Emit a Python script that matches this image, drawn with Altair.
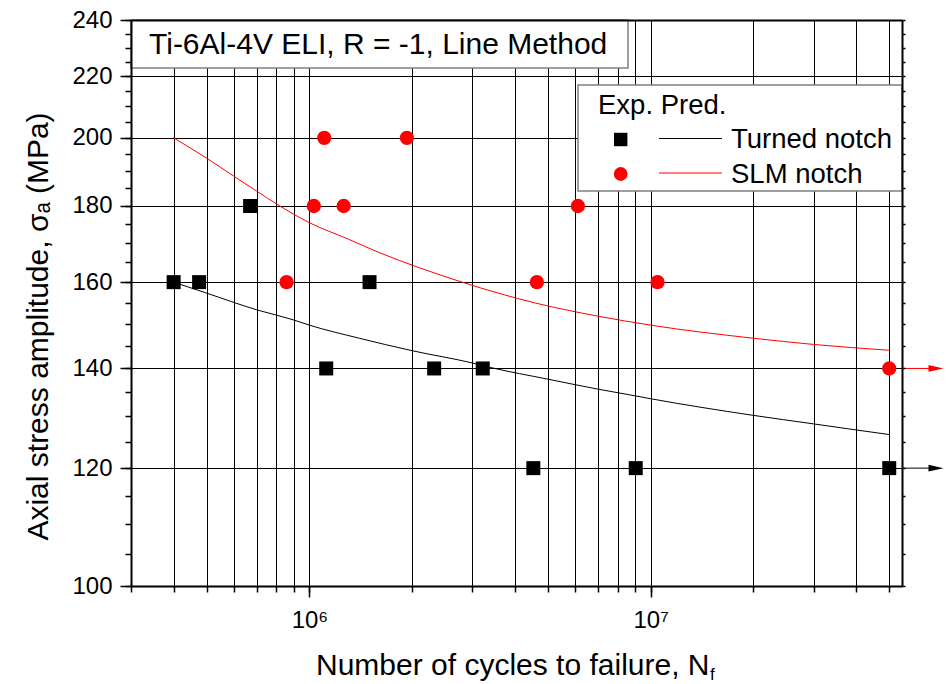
import altair as alt
import pandas as pd

# ---------------- data ----------------
turned_cycles = [4.0e5, 4.75e5, 6.7e5, 1.12e6, 1.5e6, 2.32e6, 3.22e6, 4.53e6, 9.04e6, 5.0e7]
turned_stress = [160, 160, 180, 140, 160, 140, 140, 120, 120, 120]

slm_cycles = [8.57e5, 1.03e6, 1.105e6, 1.26e6, 1.93e6, 4.64e6, 6.12e6, 1.047e7, 5.0e7]
slm_stress = [160, 180, 200, 180, 200, 160, 180, 160, 140]

turned_pred_cycles = [4e5, 5e5, 7e5, 9e5, 1e6, 1.4e6, 2e6, 3e6, 3.4e6, 5e6, 7e6, 9e6, 1e7, 2e7, 3e7, 4e7, 5e7]
turned_pred_stress = [160.0, 157.3, 153.3, 150.9, 149.7, 146.7, 143.9, 141.2, 140.2, 137.7, 135.6, 134.2,
                      133.6, 130.2, 128.5, 127.3, 126.4]

slm_pred_cycles = [4e5, 5e5, 6e5, 7e5, 8e5, 1e6, 1.3e6, 1.6e6, 2.1e6, 2.8e6, 4.6e6, 7e6, 1e7, 2e7, 3e7, 5e7]
slm_pred_stress = [200.0, 193.8, 188.5, 184.2, 180.6, 175.4, 171.0, 167.5, 163.6, 160.0, 154.9, 151.8,
                   149.7, 146.7, 145.3, 144.0]

runout_stress = [120, 140]
runout_series = ["Turned notch", "SLM notch"]

series_names = ["Turned notch", "SLM notch"]
series_colors = ["#000000", "#ff0000"]

x_domain = [3.0e5, 5.45e7]
y_domain = [100, 240]
x_grid_values = [3e5, 4e5, 5e5, 6e5, 7e5, 8e5, 9e5,
                 1e6, 2e6, 3e6, 4e6, 5e6, 6e6, 7e6, 8e6, 9e6,
                 1e7, 2e7, 3e7, 4e7, 5e7]
x_major_values = [1e6, 1e7]
x_major_labels = ["10\u2076", "10\u2077"]
y_major_values = [100, 120, 140, 160, 180, 200, 220, 240]
y_minor_values = list(range(100, 241, 5))

panel_title = "Ti-6Al-4V ELI, R = -1, Line Method"
legend_header = "Exp. Pred."
x_title = "Number of cycles to failure, N"
x_title_sub = "f"
y_title = "Axial stress amplitude, \u03c3\u2090 (MPa)"

# ---------------- layout ----------------
FONT = "Liberation Sans"
W, H = 771, 566

xs = alt.Scale(type="log", domain=x_domain, nice=False)
ys = alt.Scale(type="log", domain=y_domain, nice=False)
cs = alt.Scale(domain=series_names, range=series_colors)

turned_df = pd.DataFrame({"cycles": turned_cycles, "stress": turned_stress})
slm_df = pd.DataFrame({"cycles": slm_cycles, "stress": slm_stress})
pred_df = pd.concat([
    pd.DataFrame({"cycles": turned_pred_cycles, "stress": turned_pred_stress, "series": series_names[0]}),
    pd.DataFrame({"cycles": slm_pred_cycles, "stress": slm_pred_stress, "series": series_names[1]}),
])
runout_df = pd.DataFrame({"stress": runout_stress, "series": runout_series})
one = pd.DataFrame({"t": [panel_title]})

label_expr = "''"
for v, lab in reversed(list(zip(x_major_values, x_major_labels))):
    label_expr = f"abs(datum.value - {v}) < {v * 1e-3} ? '{lab}' : ({label_expr})"


def axis_layer(xaxis, yaxis):
    return alt.Chart(turned_df).mark_point(opacity=0).encode(
        x=alt.X("cycles:Q", scale=xs, axis=xaxis),
        y=alt.Y("stress:Q", scale=ys, axis=yaxis),
    )


grid_layer = axis_layer(
    alt.Axis(orient="bottom", values=x_grid_values, grid=True, gridColor="#000000", gridWidth=1,
             ticks=False, labels=False, domain=False, title=None, zindex=0),
    alt.Axis(orient="left", values=y_major_values, grid=True, gridColor="#000000", gridWidth=1,
             ticks=False, labels=False, domain=False, title=None, zindex=0),
)

minor_layer = axis_layer(
    alt.Axis(orient="bottom", values=x_grid_values, grid=False, ticks=True, tickSize=6, tickWidth=1.5,
             tickColor="#000000", labels=False, domain=True, domainWidth=2, domainColor="#000000",
             title=None, zindex=1),
    alt.Axis(orient="left", values=y_minor_values, grid=False, ticks=True, tickSize=6, tickWidth=1.5,
             tickColor="#000000", labels=False, domain=True, domainWidth=2, domainColor="#000000",
             title=None, zindex=1),
)

major_layer = axis_layer(
    alt.Axis(orient="bottom", values=x_major_values, grid=False, ticks=True, tickSize=11, tickWidth=1.5,
             tickColor="#000000", labelExpr=label_expr, labelFont=FONT, labelFontSize=24,
             labelColor="#000000", labelPadding=11, labelFlush=False, labelOverlap=False,
             domain=False, title=x_title, titleFont=FONT, titleFontSize=30, titleFontWeight="normal",
             titleColor="#000000", titleAlign="right", titleX=578, titleY=88,
             titleBaseline="alphabetic", zindex=1),
    alt.Axis(orient="left", values=y_major_values, grid=False, ticks=True, tickSize=11, tickWidth=1.5,
             tickColor="#000000", labelFont=FONT, labelFontSize=24, labelColor="#000000",
             labelPadding=8, labelFlush=False, labelOverlap=False, domain=False,
             title=y_title, titleFont=FONT, titleFontSize=30, titleFontWeight="normal",
             titleColor="#000000", titleAngle=270, titleAlign="center", titleX=-84, titleY=306,
             titleBaseline="alphabetic", zindex=1),
)

frame_layer = axis_layer(
    alt.Axis(orient="top", grid=False, ticks=False, labels=False, domain=True, domainWidth=2,
             domainColor="#000000", title=None, zindex=1),
    alt.Axis(orient="right", values=y_minor_values, grid=False, ticks=True, tickSize=3, tickWidth=1.5,
             tickColor="#000000", labels=False, domain=True, domainWidth=2, domainColor="#000000",
             title=None, zindex=1),
)

title_box = alt.Chart(one).mark_rect(fill="white", stroke="#808080", strokeWidth=1.5).encode(
    x=alt.value(0), x2=alt.value(497), y=alt.value(0), y2=alt.value(48))
title_text = alt.Chart(one).mark_text(align="left", baseline="alphabetic", font=FONT, fontSize=30,
                                      color="#000000").encode(
    x=alt.value(18), y=alt.value(33.5), text="t:N")

pred_lines = alt.Chart(pred_df).mark_line(strokeWidth=1, interpolate="monotone").encode(
    x=alt.X("cycles:Q", scale=xs, axis=None),
    y=alt.Y("stress:Q", scale=ys, axis=None),
    color=alt.Color("series:N", scale=cs, legend=None),
    detail="series:N",
)

turned_pts = alt.Chart(turned_df).mark_point(shape="square", filled=True, size=196, opacity=1,
                                             color="#000000").encode(
    x=alt.X("cycles:Q", scale=xs, axis=None),
    y=alt.Y("stress:Q", scale=ys, axis=None),
)
slm_pts = alt.Chart(slm_df).mark_point(shape="circle", filled=True, size=205, opacity=1,
                                       color="#ff0000").encode(
    x=alt.X("cycles:Q", scale=xs, axis=None),
    y=alt.Y("stress:Q", scale=ys, axis=None),
)

arrow_lines = alt.Chart(runout_df).mark_rule(strokeWidth=1, clip=False).encode(
    x=alt.value(W), x2=alt.value(W + 30),
    y=alt.Y("stress:Q", scale=ys, axis=None),
    color=alt.Color("series:N", scale=cs, legend=None),
)
arrow_heads = alt.Chart(runout_df).mark_point(shape="M -1 -0.45 L 1 0 L -1 0.45 Z", filled=True,
                                              size=225, opacity=1, clip=False, strokeWidth=0).encode(
    x=alt.value(W + 34),
    y=alt.Y("stress:Q", scale=ys, axis=None),
    color=alt.Color("series:N", scale=cs, legend=None),
)

# manual legend
legend_box = alt.Chart(one).mark_rect(fill="white", stroke="#808080", strokeWidth=1.5).encode(
    x=alt.value(447), x2=alt.value(771), y=alt.value(65), y2=alt.value(171))
legend_layers = [legend_box,
                 alt.Chart(one).mark_text(align="left", baseline="alphabetic", font=FONT, fontSize=27.5,
                                          color="#000000").encode(
                     x=alt.value(467), y=alt.value(94.3), text=alt.value(legend_header))]
legend_shapes = ["square", "circle"]
legend_sizes = [180, 190]
legend_rows_y = [119.5, 154]
for name, col, shp, sz, yy in zip(series_names, series_colors, legend_shapes, legend_sizes, legend_rows_y):
    legend_layers.append(alt.Chart(one).mark_point(shape=shp, filled=True, size=sz, opacity=1, color=col)
                         .encode(x=alt.value(489.7), y=alt.value(yy)))
    legend_layers.append(alt.Chart(one).mark_rule(strokeWidth=1, color=col)
                         .encode(x=alt.value(528), x2=alt.value(591), y=alt.value(yy - 1)))
    legend_layers.append(alt.Chart(one).mark_text(align="left", baseline="alphabetic", font=FONT,
                                                  fontSize=27.5, color="#000000")
                         .encode(x=alt.value(600), y=alt.value(yy + 8.5), text=alt.value(name)))

x_sub = alt.Chart(one).mark_text(align="left", baseline="alphabetic", font=FONT, fontSize=17,
                                 color="#000000", clip=False).encode(
    x=alt.value(579), y=alt.value(660), text=alt.value(x_title_sub))

chart = alt.layer(
    grid_layer, title_box, title_text, pred_lines, turned_pts, slm_pts,
    arrow_lines, arrow_heads, *legend_layers, x_sub,
    minor_layer, major_layer, frame_layer,
).resolve_axis(x="independent", y="independent").properties(
    width=W, height=H,
    padding={"left": 131, "top": 20, "right": 45, "bottom": 98},
    autosize=alt.AutoSizeParams(type="none"),
    background="white",
).configure_view(strokeWidth=0)

chart.save("out.html", embed_options={"renderer": "svg", "actions": False})
